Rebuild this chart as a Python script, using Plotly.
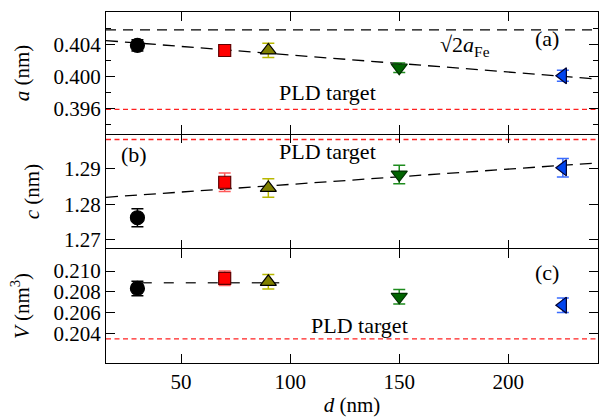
import plotly.graph_objects as go
from plotly.subplots import make_subplots

# ---- data ----
d = [30, 70, 90, 150, 225]
a_vals = [0.40394, 0.40329, 0.40330, 0.40113, 0.40012]
a_err = [0.0007, 0.0005, 0.0009, 0.0006, 0.0007]
c_vals = [1.27625, 1.28623, 1.28463, 1.2884, 1.2903]
c_err = [0.0025, 0.0026, 0.0026, 0.0026, 0.0026]
V_vals = [0.20833, 0.2093, 0.20897, 0.20752, 0.20671]
V_err = [0.0007, 0.0007, 0.0007, 0.0007, 0.0007]

x_range = [15.6, 241.1]
sqrt2_aFe = 0.40588
pld_a = 0.3959
pld_c = 1.29825
pld_V = 0.20346
fit_a = [0.40454, 0.39971]
fit_c = [1.2820, 1.29169]
fit_V_x = [32, 95]
fit_V = [0.20887, 0.20887]

symbols = ["circle", "square", "triangle-up", "triangle-down", "triangle-left"]
fills = ["#000000", "#ff0000", "#808000", "#006400", "#0044ee"]
edges = ["#000000", "#600000", "#000000", "#003000", "#000030"]
errcols = ["#000000", "#ff5a5a", "#b8b800", "#1e8c1e", "#3a6cff"]
sizes = [14, 12, 14, 14, 14]

FONT = "'Liberation Serif', 'Times New Roman', 'DejaVu Serif', serif"
FS = 21
FSA = 22

fig = make_subplots(rows=3, cols=1, shared_xaxes=True, vertical_spacing=0)


def hline(row, x, y, color, dash, width=1.3):
    fig.add_trace(go.Scatter(x=x, y=y, mode="lines",
                             line=dict(color=color, dash=dash, width=width),
                             showlegend=False, hoverinfo="skip"), row=row, col=1)


# panel a
hline(1, x_range, [sqrt2_aFe, sqrt2_aFe], "black", "10px,7px")
hline(1, x_range, fit_a, "black", "12px,7px")
hline(1, x_range, [pld_a, pld_a], "#ff2020", "5px,3.5px")
# panel b
hline(2, x_range, fit_c, "black", "12px,7px")
hline(2, x_range, [pld_c, pld_c], "#ff2020", "5px,3.5px")
# panel c
hline(3, fit_V_x, fit_V, "#333333", "10px,12px", 1.6)
hline(3, x_range, [pld_V, pld_V], "#ff2020", "5px,3.5px")

for row, vals, errs in [(1, a_vals, a_err), (2, c_vals, c_err), (3, V_vals, V_err)]:
    for i in range(len(d)):
        fig.add_trace(go.Scatter(
            x=[d[i]], y=[vals[i]], mode="markers",
            marker=dict(symbol=symbols[i], size=sizes[i], color=fills[i],
                        line=dict(color=edges[i], width=1.2)),
            error_y=dict(type="data", array=[errs[i]], color=errcols[i],
                         thickness=1.5, width=6),
            showlegend=False), row=row, col=1)

LW = 1.3
axis_common = dict(showline=True, linecolor="black", linewidth=LW, mirror="allticks",
                   ticks="inside", ticklen=9, tickcolor="black", tickwidth=1.3,
                   showgrid=False, zeroline=False,
                   tickfont=dict(family=FONT, size=FS, color="black"))

for r in (1, 2, 3):
    fig.update_xaxes(range=x_range, tickvals=[50, 100, 150, 200], row=r, col=1, **axis_common)
fig.update_xaxes(showticklabels=False, row=1, col=1)
fig.update_xaxes(showticklabels=False, showline=False, row=2, col=1)
fig.update_xaxes(showticklabels=True, row=3, col=1,
                 title=dict(text="<i>d</i> (nm)", font=dict(family=FONT, size=FS, color="black"),
                            standoff=6))

b1 = 229 / 351
b2 = 114 / 351

fig.update_yaxes(range=[0.39281, 0.408125], tickvals=[0.396, 0.400, 0.404],
                 ticktext=["0.396", "0.400", "0.404"],
                 minor=dict(ticks="inside", tickvals=[0.394, 0.398, 0.402, 0.406], ticklen=5,
                            tickcolor="black", tickwidth=1.3),
                 domain=[b1, 1.0], row=1, col=1, **axis_common,
                 title=dict(text="<i>a</i> (nm)", font=dict(family=FONT, size=FS, color="black"),
                            standoff=18))
fig.update_yaxes(range=[1.26746, 1.2998], tickvals=[1.27, 1.28, 1.29],
                 ticktext=["1.27", "1.28", "1.29"],
                 domain=[b2, b1], row=2, col=1, **axis_common,
                 title=dict(text="<i>c</i> (nm)", font=dict(family=FONT, size=FS, color="black"),
                            standoff=18))
fig.update_yaxes(range=[0.20114, 0.21213], tickvals=[0.204, 0.206, 0.208, 0.210],
                 ticktext=["0.204", "0.206", "0.208", "0.210"],
                 domain=[0.0, b2], row=3, col=1, **axis_common,
                 title=dict(text="<i>V</i> (nm<sup>3</sup>)", font=dict(family=FONT, size=FS, color="black"),
                            standoff=18))


def note(text, x, y, row):
    xr = "x" if row == 1 else f"x{row}"
    yr = "y" if row == 1 else f"y{row}"
    fig.add_annotation(text=text, x=x, y=y, xref=xr, yref=yr, showarrow=False,
                       font=dict(family=FONT, size=FSA, color="black"))


note("(a)", 217.9, 0.40475, 1)
note("√2<i>a</i><sub>Fe</sub>", 180.3, 0.40385, 1)
note("PLD target", 117, 0.3980, 1)
note("(b)", 28.4, 1.29403, 2)
note("PLD target", 117, 1.29487, 2)
note("(c)", 217.9, 0.2099, 3)
note("PLD target", 131.7, 0.20478, 3)

fig.update_layout(width=599, height=417, margin=dict(l=106, r=1, t=12, b=54),
                  plot_bgcolor="white", paper_bgcolor="white",
                  font=dict(family=FONT, size=FS, color="black"))

fig.write_html("out.html")
